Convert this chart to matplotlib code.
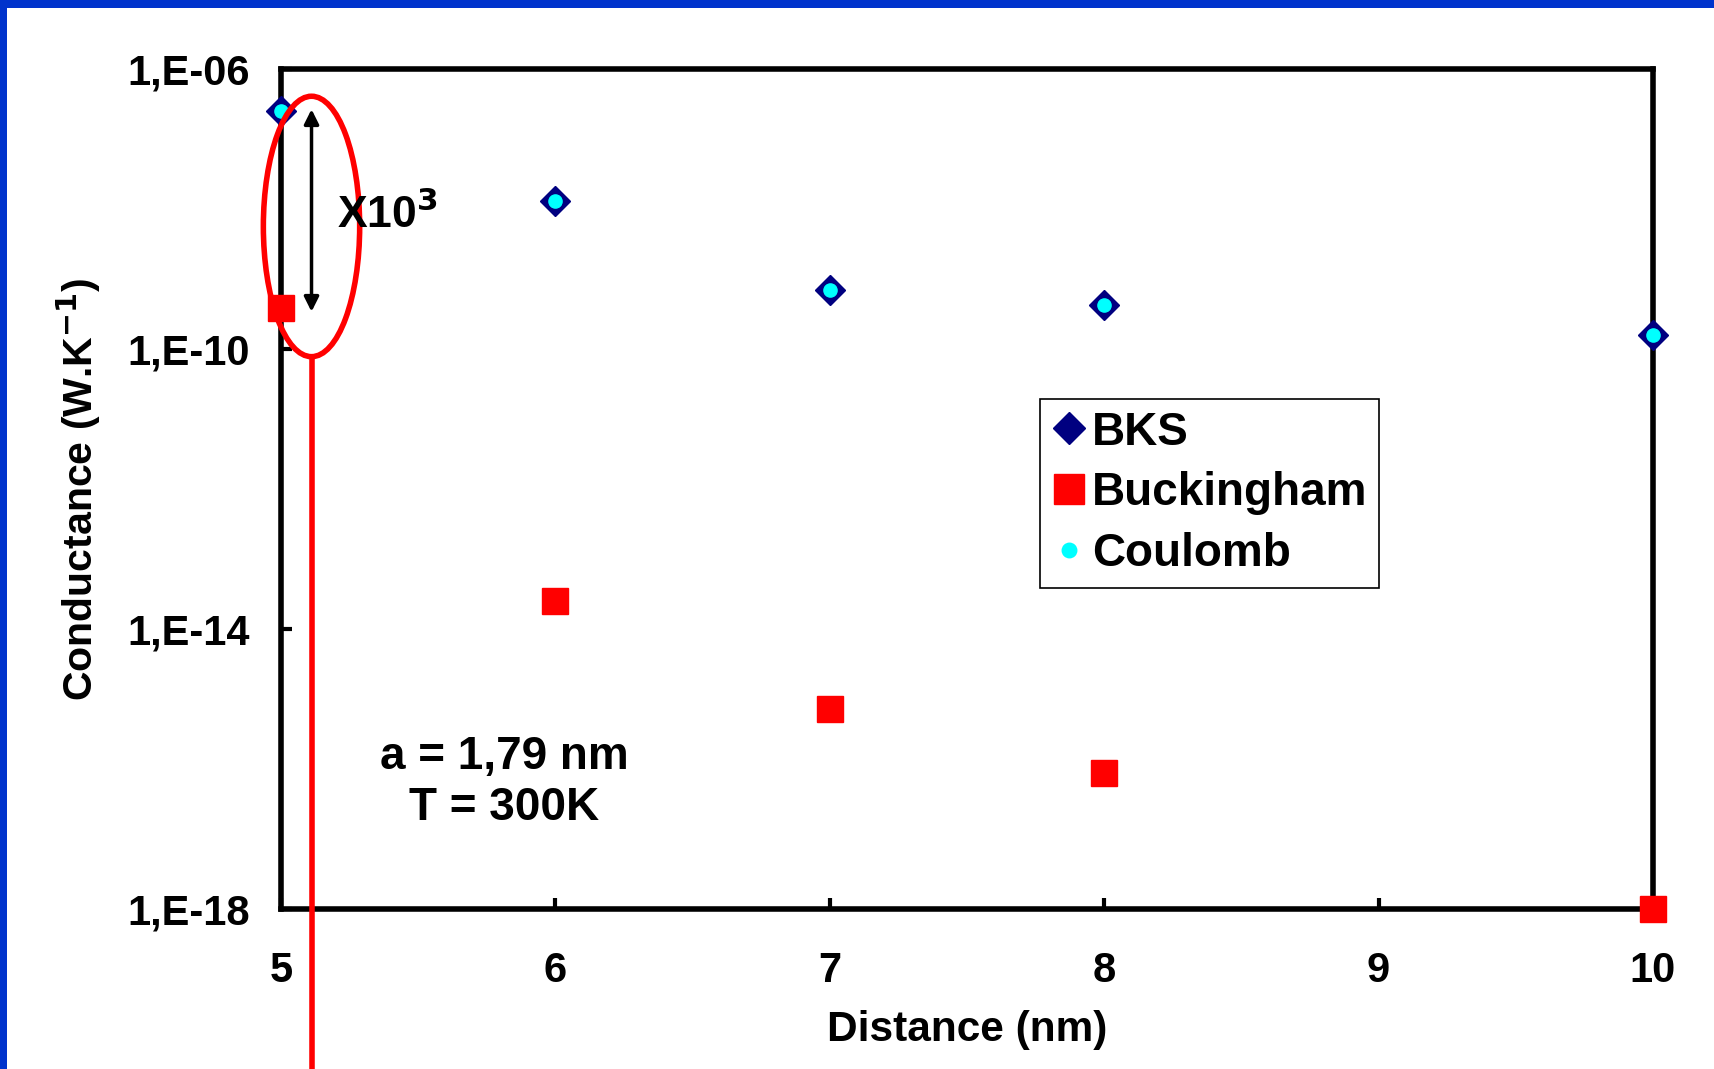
import matplotlib
matplotlib.use("Agg")
import matplotlib.pyplot as plt
from matplotlib.patches import Ellipse, Rectangle
from matplotlib.ticker import FixedLocator, FixedFormatter, NullLocator

plt.rcParams["font.family"] = ["Liberation Sans", "DejaVu Sans"]
plt.rcParams["font.weight"] = "bold"

# data
distance_labels = ["5", "6", "7", "8", "9", "10"]
distance_pos = [0, 1, 2, 3, 5]  # category index of each measured distance
bks = [2.5e-7, 1.3e-8, 7.0e-10, 4.2e-10, 1.6e-10]
buckingham = [3.9e-10, 2.5e-14, 7.2e-16, 8.7e-17, 1.0e-18]
coulomb = [2.5e-7, 1.3e-8, 7.0e-10, 4.2e-10, 1.6e-10]
y_ticks = [1e-18, 1e-14, 1e-10, 1e-6]
y_tick_labels = ["1,E-18", "1,E-14", "1,E-10", "1,E-06"]

fig = plt.figure(figsize=(17.15, 10.69), dpi=100)
ax = fig.add_axes([0.1638, 0.1497, 0.80, 0.7858])

# slide frame (blue bands on top and left)
fig.patches.append(Rectangle((0, 1 - 8 / 1069), 1, 8 / 1069, transform=fig.transFigure,
                             facecolor="#0033cc", edgecolor="none", zorder=10))
fig.patches.append(Rectangle((0, 0), 7 / 1715, 1, transform=fig.transFigure,
                             facecolor="#0033cc", edgecolor="none", zorder=10))

ax.plot(distance_pos, bks, linestyle="none", marker="D", markersize=15,
        color="#000080", label="BKS", clip_on=False, zorder=4)
ax.plot(distance_pos, buckingham, linestyle="none", marker="s", markersize=19,
        color="#ff0000", label="Buckingham", clip_on=False, zorder=4)
ax.plot(distance_pos, coulomb, linestyle="none", marker="o", markersize=9.5,
        color="#00ffff", label="Coulomb", clip_on=False, zorder=5)

ax.set_yscale("log")
ax.set_ylim(1e-18, 1e-6)
ax.set_xlim(0, 5)
ax.yaxis.set_major_locator(FixedLocator(y_ticks))
ax.yaxis.set_major_formatter(FixedFormatter(y_tick_labels))
ax.yaxis.set_minor_locator(NullLocator())
ax.set_xticks(range(len(distance_labels)))
ax.set_xticklabels(distance_labels)

for side in ax.spines.values():
    side.set_linewidth(4)
ax.tick_params(axis="both", direction="in", length=8, width=3, labelsize=30)
ax.tick_params(axis="x", pad=30)
ax.tick_params(axis="y", pad=22)

ax.set_xlabel("Distance (nm)", fontsize=30.5, fontweight="bold", labelpad=14)
ax.set_ylabel("Conductance (W.K$^{\\mathbf{-1}}$)", fontsize=29.5, fontweight="bold",
              labelpad=18)

leg = ax.legend(loc="upper left", bbox_to_anchor=(0.553, 0.607), fontsize=33,
                frameon=True, fancybox=False, edgecolor="black", framealpha=1,
                handletextpad=0.1, handlelength=0.8, borderpad=0.25, labelspacing=0.37,
                borderaxespad=0, markerscale=1.1)
leg.get_frame().set_linewidth(1.2)
for text in leg.get_texts():
    text.set_fontweight("bold")

# annotation: factor of 10^3 between BKS and Buckingham at 5 nm
ax.add_patch(Ellipse((0.0223, 0.8125), 0.0702, 0.31, transform=ax.transAxes,
                     facecolor="none", edgecolor="#ff0000", linewidth=4,
                     clip_on=False, zorder=6))
ax.plot([0.0223, 0.0223], [0.6575, -0.3], transform=ax.transAxes, color="#ff0000",
        linewidth=4, clip_on=False, zorder=6)
ax.annotate("", xy=(0.0223, 0.952), xytext=(0.0223, 0.711), xycoords="axes fraction",
            arrowprops=dict(arrowstyle="<|-|>", color="black", lw=2.5,
                            mutation_scale=22, shrinkA=0, shrinkB=0), zorder=6)
ax.text(0.041, 0.826, "X10$^{\\mathbf{3}}$", transform=ax.transAxes, fontsize=32,
        fontweight="bold", ha="left", va="center", zorder=6)
ax.text(0.163, 0.151, "a = 1,79 nm\nT = 300K", transform=ax.transAxes, fontsize=33,
        fontweight="bold", ha="center", va="center", linespacing=1.2)

fig.savefig("out.png", dpi=100)
